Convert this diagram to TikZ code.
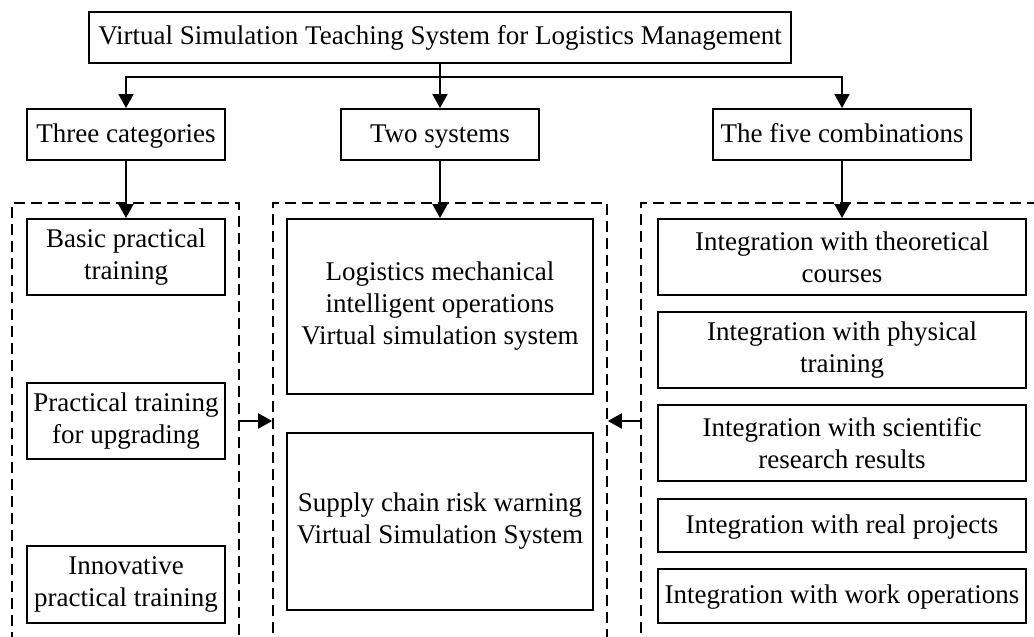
\documentclass[tikz,border=0pt]{standalone}
\usepackage{fontspec}
\setmainfont{Liberation Serif}
\usetikzlibrary{arrows.meta}
\begin{document}
\begin{tikzpicture}[x=1pt,y=-1pt,
  box/.style={draw, line width=2pt, align=center, inner sep=0pt,
    font=\fontsize{27}{32}\selectfont},
  oneline/.style={text height=20pt, text depth=5pt},
  grp/.style={draw, line width=1.6pt, dash pattern=on 11pt off 6pt, inner sep=0pt},
  arr/.style={line width=2pt, -{Triangle[length=14pt,width=15pt]}}
]
\useasboundingbox (0,0) rectangle (1034,637);
\clip (0,0) rectangle (1034,637);

% dashed groups (open at the bottom / right of the page)
\node[grp, minimum width=227pt, minimum height=477pt] (lgrp) at (125.5,441.5) {};
\node[grp, minimum width=334pt, minimum height=477pt] (mgrp) at (440,441.5) {};
\node[grp, minimum width=419pt, minimum height=477pt] (rgrp) at (850.5,441.5) {};

% title and the three headings
\node[box, oneline, minimum width=702pt, minimum height=51pt] (top) at (440,37.5)
  {Virtual Simulation Teaching System for Logistics Management};
\node[box, oneline, minimum width=198pt, minimum height=51pt] (cat) at (126,134.5) {Three categories};
\node[box, oneline, minimum width=198pt, minimum height=51pt] (two) at (440,134.5) {Two systems};
\node[box, oneline, minimum width=258pt, minimum height=51pt] (five) at (842,134.5) {The five combinations};

% three categories
\node[box, minimum width=198pt, minimum height=76pt] (basic) at (126,257)
  {Basic practical\\training};
\node[box, minimum width=198pt, minimum height=76pt] (upg) at (126,421)
  {Practical training\\for upgrading};
\node[box, minimum width=198pt, minimum height=77pt] (inn) at (126,584.5)
  {Innovative\\practical training};

% two systems
\node[box, minimum width=306pt, minimum height=175pt] (logi) at (440,306.5)
  {Logistics mechanical\\intelligent operations\\Virtual simulation system};
\node[box, minimum width=306pt, minimum height=177pt] (sup) at (440,521.5)
  {Supply chain risk warning\\Virtual Simulation System};

% five combinations
\node[box, minimum width=368pt, minimum height=76pt] (r1) at (842,257)
  {Integration with theoretical\\courses};
\node[box, minimum width=368pt, minimum height=76pt] (r2) at (842,350)
  {Integration with physical\\training};
\node[box, minimum width=368pt, minimum height=76pt] (r3) at (842,443)
  {Integration with scientific\\research results};
\node[box, oneline, minimum width=368pt, minimum height=53pt] (r4) at (842,525.5)
  {Integration with real projects};
\node[box, oneline, minimum width=368pt, minimum height=54pt] (r5) at (842,596)
  {Integration with work operations};

% connectors
\coordinate (j) at (440,77);
\draw[arr] (top.south) -- (two.north);
\draw[arr] (j) -| (cat.north);
\draw[arr] (j) -| (five.north);
\draw[arr] (cat.south) -- (basic.north);
\draw[arr] (two.south) -- (logi.north);
\draw[arr] (five.south) -- (r1.north);
\draw[arr] (lgrp.east |- upg) -- (mgrp.west |- upg);
\draw[arr] (rgrp.west |- upg) -- (mgrp.east |- upg);
\end{tikzpicture}
\end{document}
